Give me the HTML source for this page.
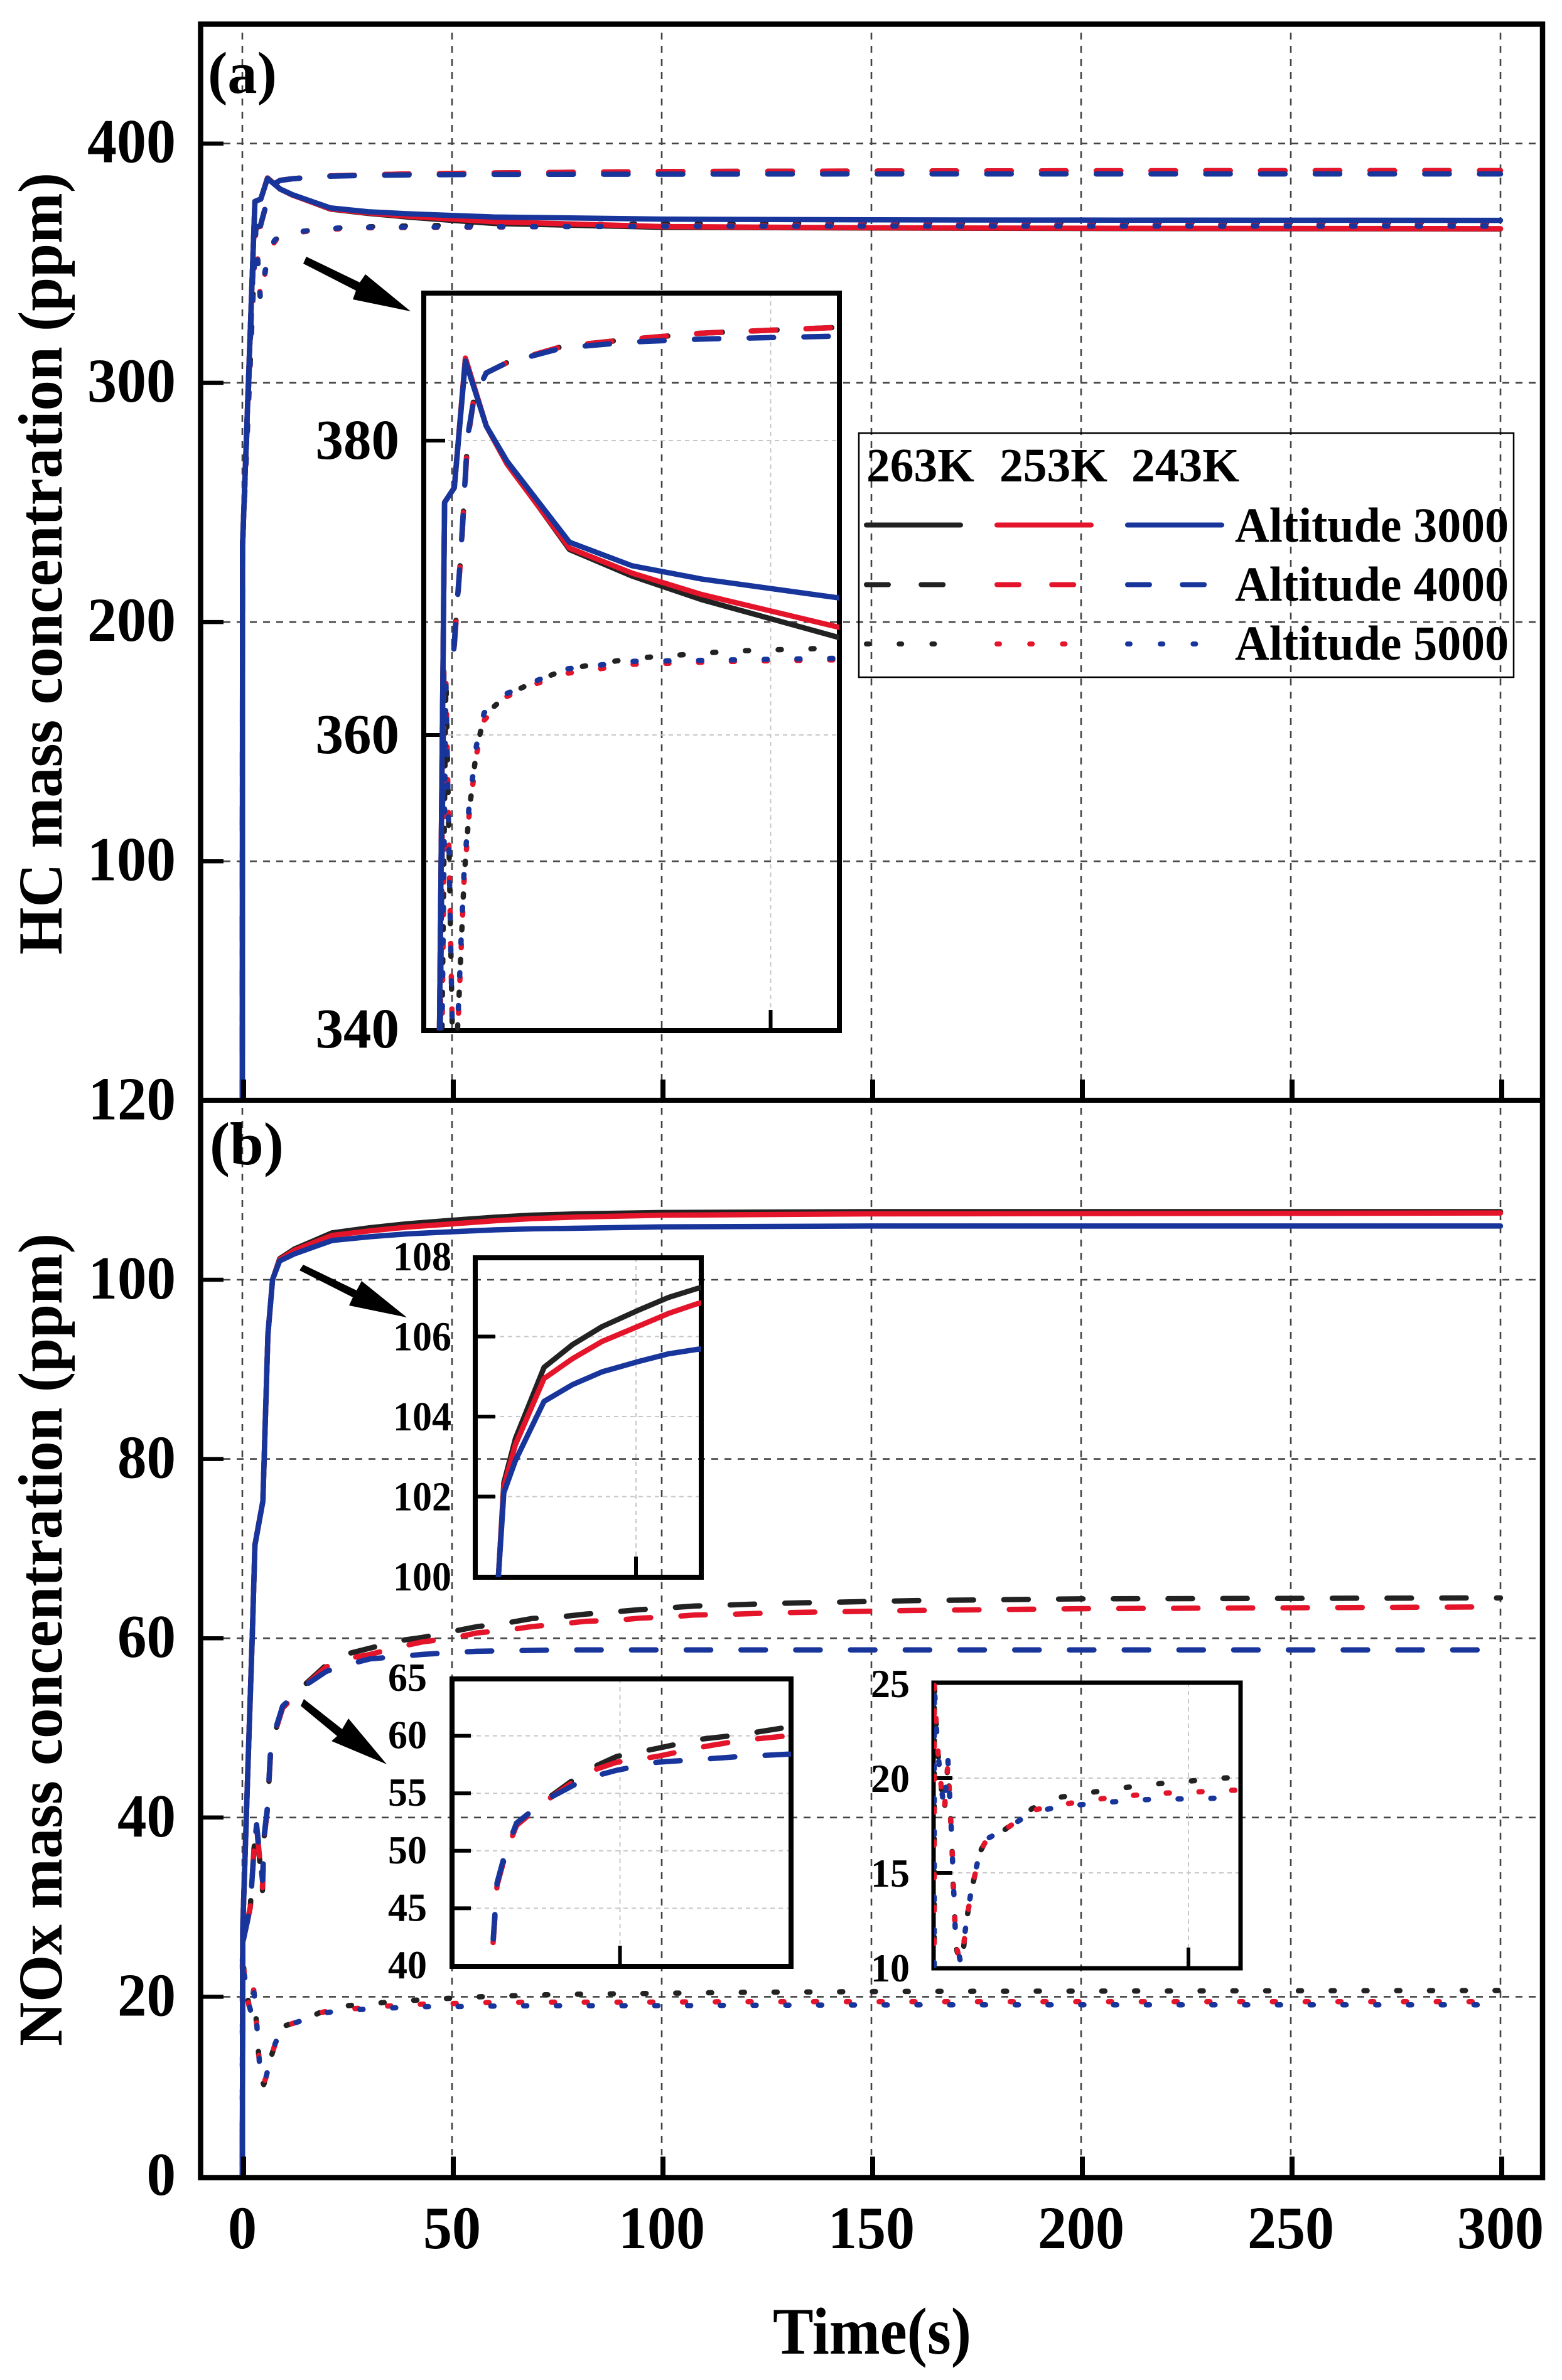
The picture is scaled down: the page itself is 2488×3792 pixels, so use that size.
<!DOCTYPE html>
<html lang="en">
<head>
<meta charset="utf-8">
<title>HC and NOx mass concentration vs time</title>
<style>
html,body{margin:0;padding:0;background:#fff;width:2488px;height:3792px;overflow:hidden;}
svg{display:block;}
text{font-family:"Liberation Serif",serif;font-weight:bold;fill:#000;}
</style>
</head>
<body>
<svg id="chart" xmlns="http://www.w3.org/2000/svg" width="2488" height="3792" viewBox="0 0 2488 3792">
<rect x="0" y="0" width="2488" height="3792" fill="#fff"/>
<defs>
<clipPath id="clip-a"><rect x="324" y="43" width="2129" height="1706"/></clipPath>
<clipPath id="clip-b"><rect x="324" y="1757" width="2129" height="1709"/></clipPath>
<clipPath id="clip-ia"><rect x="675" y="467" width="662" height="1175"/></clipPath>
<clipPath id="clip-ib"><rect x="757" y="2004" width="360" height="509"/></clipPath>
<clipPath id="clip-ic"><rect x="720" y="2675" width="540" height="458"/></clipPath>
<clipPath id="clip-id"><rect x="1488" y="2681" width="488" height="455"/></clipPath>
</defs>
<g id="layer"></g>
</svg>
<script>
// ---------- axis tick values ----------
const timeTicks = [0, 50, 100, 150, 200, 250, 300];
const hcTicks = [100, 200, 300, 400];
const noxTicks = [0, 20, 40, 60, 80, 100, 120];
const insetHcTicks = [340, 360, 380];
const insetNoxHighTicks = [100, 102, 104, 106, 108];
const insetNoxMidTicks = [40, 45, 50, 55, 60, 65];
const insetNoxLowTicks = [10, 15, 20, 25];

// ---------- HC series (ppm) ----------
const hcSolidTime = [0, 0.05, 3, 4.4, 6, 9, 12, 21, 30, 40, 60, 100, 150, 200, 300];
const hcSolid263 = [0, 232, 375.8, 376.8, 385.6, 381, 378.5, 372.6, 370.8, 369.2, 366.6, 365, 364.7, 364.5, 364.3];
const hcSolid253 = [0, 232, 375.8, 376.8, 385.6, 381, 378.4, 372.7, 371, 369.55, 367.3, 365.3, 364.8, 364.6, 364.4];
const hcSolid243 = [0, 232, 375.8, 376.8, 385.4, 381, 378.6, 373.1, 371.5, 370.6, 369.3, 368.4, 368.1, 368, 367.9];

const hcDashTime = [0, 0.05, 2.9, 4.3, 5.4, 6.3, 7.2, 9, 12, 20, 30, 40, 60, 100, 150, 200, 300];
const hcDash263 = [0, 232, 364.8, 365.6, 372.6, 380, 382.8, 384.6, 385.3, 386.4, 386.9, 387.3, 387.7, 388.3, 388.5, 388.6, 388.7];
const hcDash253 = [0, 232, 364.6, 365.4, 372.6, 380, 382.8, 384.6, 385.3, 386.4, 386.9, 387.3, 387.7, 388.3, 388.5, 388.6, 388.7];
const hcDash243 = [0, 232, 364.8, 365.6, 372.8, 380.2, 382.8, 384.6, 385.3, 386.3, 386.7, 386.9, 387.1, 387.2, 387.3, 387.3, 387.3];

const hcDotTime = [0, 0.05, 3.2, 4.3, 5, 5.4, 5.8, 6.5, 7.6, 8.7, 11.9, 16.3, 20.8, 30, 44.5, 58.7, 100, 150, 300];
const hcDot263 = [0, 232, 364, 335, 341.2, 345.8, 350.2, 354.6, 359, 361.3, 362.7, 363.7, 364.5, 365.2, 365.7, 365.9, 366.4, 366.7, 367];
const hcDot253 = [0, 232, 363.5, 335, 341, 345.6, 350, 354.4, 358.7, 361, 362.6, 363.5, 364.2, 364.8, 365, 365.1, 365.6, 366, 366.2];
const hcDot243 = [0, 232, 363.5, 335, 341.6, 346.3, 350.6, 355, 359.3, 361.5, 362.8, 363.7, 364.5, 365, 365.1, 365.2, 365.4, 365.5, 365.5];

// ---------- NOx series (ppm) ----------
const noxSolidTime = [0, 0.1, 1.5, 2.4, 3, 4.9, 6.1, 7.2, 8.9, 12.5, 21.4, 30.3, 39.5, 50.5, 60.2, 69, 80, 100, 150, 300];
const noxSolid263 = [0, 27.7, 48, 60.7, 70.4, 75.3, 93.9, 100, 102.35, 103.45, 105.23, 105.8, 106.25, 106.65, 106.98, 107.2, 107.35, 107.5, 107.6, 107.6];
const noxSolid253 = [0, 27.7, 48, 60.7, 70.4, 75.3, 93.9, 100, 102.25, 103.3, 104.95, 105.45, 105.88, 106.25, 106.58, 106.82, 107, 107.2, 107.35, 107.45];
const noxSolid243 = [0, 27.7, 48, 60.7, 70.4, 75.3, 93.9, 100, 102.1, 102.9, 104.38, 104.8, 105.12, 105.37, 105.57, 105.68, 105.75, 105.9, 106, 106];

const noxDashTime = [0, 0.1, 1.9, 2.8, 3.4, 4.8, 5.2, 6, 6.7, 8, 9.6, 13.9, 20, 24.5, 30.5, 37, 43, 50, 56, 63, 69, 76, 82, 89, 95, 102, 108, 115, 128, 160, 200, 300];
const noxDash263 = [0, 26, 30, 36.6, 39, 31.8, 37.8, 41, 47, 49.8, 52.4, 54.4, 57, 58.2, 58.9, 59.7, 60.1, 60.75, 61.3, 61.7, 62.2, 62.4, 62.7, 62.96, 63.2, 63.4, 63.6, 63.7, 63.9, 64.2, 64.4, 64.5];
const noxDash253 = [0, 26, 30, 36.6, 39, 32.2, 37.8, 41, 47, 49.8, 52.2, 54.3, 56.8, 57.7, 58.2, 59, 59.6, 60, 60.6, 60.9, 61.3, 61.6, 61.9, 62, 62.25, 62.4, 62.6, 62.65, 62.85, 63.1, 63.3, 63.5];
const noxDash243 = [0, 26, 30, 36.6, 39.2, 33, 38, 41.2, 47.2, 50, 52.4, 54.4, 56.3, 57, 57.7, 57.95, 58.2, 58.4, 58.55, 58.6, 58.65, 58.7, 58.7, 58.7, 58.7, 58.7, 58.7, 58.7, 58.7, 58.7, 58.7, 58.7];

const noxDotTime = [0, 0.02, 0.45, 0.9, 1.6, 2, 2.7, 3.2, 3.5, 3.7, 4, 4.2, 5.1, 5.8, 6.6, 7.6, 9, 10.4, 14, 19.3, 25, 31, 37.5, 44, 50.5, 56.8, 70, 82, 94, 120, 160, 300];
const noxDot263 = [0, 25, 22.5, 20.8, 19, 18.2, 20.8, 18, 16.4, 14.6, 13, 11.2, 10.2, 11.1, 12.9, 14.4, 16.1, 16.8, 17.3, 18.4, 19, 19.25, 19.5, 19.7, 19.85, 20, 20.2, 20.3, 20.35, 20.5, 20.6, 20.7];
const noxDot253 = [0, 25, 22.5, 20.8, 19, 18.3, 20.8, 18.1, 16.5, 14.7, 13.1, 11.3, 10.3, 11.2, 12.9, 14.4, 16.1, 16.8, 17.3, 18.3, 18.6, 18.85, 19.05, 19.2, 19.25, 19.35, 19.4, 19.4, 19.4, 19.45, 19.45, 19.45];
const noxDot243 = [0, 25, 22.6, 20.9, 19.1, 18.4, 21, 18.2, 16.6, 14.8, 13.2, 11.5, 10.4, 11.3, 13, 14.5, 16.1, 16.8, 17.3, 18.2, 18.5, 18.65, 18.8, 18.9, 18.9, 18.95, 19, 19, 19, 19.05, 19.1, 19.1];

// ---------- legend text ----------
const legendTemps = ["263K", "253K", "243K"];
const legendAltitudes = ["Altitude 3000", "Altitude 4000", "Altitude 5000"];

// ---------- drawing ----------
const layer = document.getElementById('layer');
const SVGNS = 'http://www.w3.org/2000/svg';
const COLORS = ['#222222', '#e4152b', '#17359b'];
const TEMPS = ['263k', '253k', '243k'];
const DASH = {dash: [39, 48.2], dot: [5, 47.2]};

function mk(tag, attrs, name, parent) {
  const el = document.createElementNS(SVGNS, tag);
  for (const k in attrs) el.setAttribute(k, attrs[k]);
  
  
  (parent || layer).appendChild(el);
  return el;
}
function txt(s, x, y, size, anchor, len, name, parent) {
  const a = {x: x, y: y, 'font-size': size, 'text-anchor': anchor || 'start'};
  if (len) { a.textLength = len; a.lengthAdjust = 'spacingAndGlyphs'; }
  const el = mk('text', a, name, parent);
  el.textContent = s;
  return el;
}
function seg(x1, y1, x2, y2, stroke, w, dash, name, parent) {
  const a = {x1: x1, y1: y1, x2: x2, y2: y2, stroke: stroke, 'stroke-width': w};
  if (dash) a['stroke-dasharray'] = dash;
  return mk('line', a, name, parent);
}
// Liang-Barsky segment clip against a box
function clipSeg(p, q, box) {
  let t0 = 0, t1 = 1;
  const dx = q[0] - p[0], dy = q[1] - p[1];
  const tests = [[-dx, p[0] - box.x0], [dx, box.x1 - p[0]], [-dy, p[1] - box.y0], [dy, box.y1 - p[1]]];
  for (const [a, b] of tests) {
    if (a === 0) { if (b < 0) return null; continue; }
    const r = b / a;
    if (a < 0) { if (r > t1) return null; if (r > t0) t0 = r; }
    else { if (r < t0) return null; if (r < t1) t1 = r; }
  }
  return [[p[0] + t0 * dx, p[1] + t0 * dy], [p[0] + t1 * dx, p[1] + t1 * dy]];
}
function curve(time, vals, xf, yf, color, style, name, parent, box, anchorT) {
  const pts = time.map((t, i) => [xf(t), yf(vals[i])]);
  let d = '', last = null, len = 0, anchorLen = null;
  const ax = anchorT === undefined ? null : xf(anchorT);
  for (let i = 1; i < pts.length; i++) {
    const s = box ? clipSeg(pts[i - 1], pts[i], box) : [pts[i - 1], pts[i]];
    if (!s) continue;
    if (!last || last[0] !== s[0][0] || last[1] !== s[0][1]) d += 'M' + s[0][0].toFixed(2) + ' ' + s[0][1].toFixed(2) + ' ';
    d += 'L' + s[1][0].toFixed(2) + ' ' + s[1][1].toFixed(2) + ' ';
    const sl = Math.hypot(s[1][0] - s[0][0], s[1][1] - s[0][1]);
    if (ax !== null && anchorLen === null && s[1][0] >= ax) {
      const f = s[1][0] > s[0][0] ? (ax - s[0][0]) / (s[1][0] - s[0][0]) : 0;
      anchorLen = len + Math.max(0, f) * sl;
    }
    len += sl;
    last = s[1];
  }
  const a = {d: d.trim(), fill: 'none', stroke: color, 'stroke-width': 8.5, 'stroke-linecap': 'round', 'stroke-linejoin': 'round'};
  if (DASH[style]) {
    const P = DASH[style][0] + DASH[style][1];
    a['stroke-dasharray'] = DASH[style].join(' ');
    if (anchorLen !== null) a['stroke-dashoffset'] = (((-anchorLen % P) + P) % P).toFixed(2);
  }
  return mk('path', a, name, parent);
}

// main scales
const xMain = t => 386 + 6.68 * t;
const yHC = v => 1753.5 - 3.812 * v;
const yNOx = v => 3467 - 14.28 * v;

// main grids
const grid = mk('g', {}, 'main-gridlines');
timeTicks.forEach(t => {
  seg(xMain(t), 52, xMain(t), 1720, '#444', 2.6, '11 10', 'grid-x-a-' + t, grid);
  seg(xMain(t), 1765, xMain(t), 3434, '#444', 2.6, '11 10', 'grid-x-b-' + t, grid);
});
hcTicks.forEach(v => seg(356, yHC(v), 2448, yHC(v), '#444', 2.6, '11 10', 'grid-y-hc-' + v, grid));
noxTicks.filter(v => v > 0 && v < 120).forEach(v => seg(356, yNOx(v), 2448, yNOx(v), '#444', 2.6, '11 10', 'grid-y-nox-' + v, grid));

// series groups
const hcGroups = [
  {time: hcSolidTime, vals: [hcSolid263, hcSolid253, hcSolid243], style: 'solid', alt: 'altitude-3000'},
  {time: hcDashTime, vals: [hcDash263, hcDash253, hcDash243], style: 'dash', alt: 'altitude-4000'},
  {time: hcDotTime, vals: [hcDot263, hcDot253, hcDot243], style: 'dot', alt: 'altitude-5000'}
];
const noxGroups = [
  {time: noxSolidTime, vals: [noxSolid263, noxSolid253, noxSolid243], style: 'solid', alt: 'altitude-3000'},
  {time: noxDashTime, vals: [noxDash263, noxDash253, noxDash243], style: 'dash', alt: 'altitude-4000'},
  {time: noxDotTime, vals: [noxDot263, noxDot253, noxDot243], style: 'dot', alt: 'altitude-5000'}
];
function allSeries(groups, xf, yf, clip, prefix, phase, box) {
  const g = mk('g', {'clip-path': 'url(#' + clip + ')'}, prefix + '-series');
  for (let c = 0; c < 3; c++) {
    groups.forEach(sr => {
      const an = phase[sr.style] ? phase[sr.style][c] : undefined;
      curve(sr.time, sr.vals[c], xf, yf, COLORS[c], sr.style, prefix + '-' + sr.alt + '-' + TEMPS[c], g, box, an);
    });
  }
}
allSeries(hcGroups, xMain, yHC, 'clip-a', 'hc-main', {dash: [295, 295, 295], dot: [296, 295.8, 295.8]});
allSeries(noxGroups, xMain, yNOx, 'clip-b', 'nox-main', {dash: [286, 287.3, 288.6], dot: [298.7, 292.5, 293.7]});

// main ticks
const ticks = mk('g', {}, 'main-ticks');
timeTicks.forEach(t => {
  seg(xMain(t) + 2, 1753, xMain(t) + 2, 1720, '#000', 8, null, 'x-tick-a-' + t, ticks);
  seg(xMain(t) + 2, 3469, xMain(t) + 2, 3436, '#000', 8, null, 'x-tick-b-' + t, ticks);
});
hcTicks.forEach(v => seg(320, yHC(v), 356, yHC(v), '#000', 6.5, null, 'y-tick-hc-' + v, ticks));
noxTicks.filter(v => v > 0 && v < 120).forEach(v => seg(320, yNOx(v), 356, yNOx(v), '#000', 6.5, null, 'y-tick-nox-' + v, ticks));

// frames
mk('rect', {x: 319.5, y: 38.5, width: 2137.5, height: 3431, fill: 'none', stroke: '#000', 'stroke-width': 8.5}, 'outer-frame');
seg(316, 1753, 2461, 1753, '#000', 8, null, 'panel-divider');

// labels
hcTicks.forEach(v => txt(String(v), 280, yHC(v) + 30, 100, 'end', 141, 'hc-y-tick-label-' + v));
noxTicks.forEach(v => txt(String(v), 280, yNOx(v) + 30, 98, 'end', String(v).length * 46.5, 'nox-y-tick-label-' + v));
timeTicks.forEach(t => {
  const s = String(t);
  txt(s, xMain(t), 3582, 96, 'middle', s.length * 46, 'x-tick-label-' + t);
});
txt('Time(s)', 1231, 3750, 106, 'start', 316, 'x-axis-title');
txt('HC mass concentration (ppm)', 0, 0, 100, 'start', 1246, 'hc-y-axis-title').setAttribute('transform', 'translate(98 1521) rotate(-90)');
txt('NOx mass concentration (ppm)', 0, 0, 100, 'start', 1295, 'nox-y-axis-title').setAttribute('transform', 'translate(98 3260) rotate(-90)');
txt('(a)', 331, 148, 94, 'start', 110, 'panel-a-label');
txt('(b)', 334, 1855, 96, 'start', 118, 'panel-b-label');

// insets
function inset(cfg) {
  const g = mk('g', {}, cfg.name);
  const L = cfg.L, R = cfg.R, T = cfg.T, B = cfg.B;
  cfg.ticks.forEach(v => {
    if (v > cfg.minV && v < cfg.maxV) {
      seg(L, cfg.y(v), R, cfg.y(v), '#c8c8c8', 2, '7 6', cfg.name + '-grid-y-' + v, g);
      seg(L, cfg.y(v), L + cfg.tickLen, cfg.y(v), '#000', 6, null, cfg.name + '-y-tick-' + v, g);
    }
    txt(String(v), cfg.labelRight, cfg.y(v) + cfg.labelDy, cfg.fontSize, 'end', String(v).length * cfg.digitW, cfg.name + '-y-label-' + v, g);
  });
  seg(cfg.x(cfg.xTick), T, cfg.x(cfg.xTick), B, '#c8c8c8', 2, '7 6', cfg.name + '-grid-x', g);
  seg(cfg.x(cfg.xTick), B, cfg.x(cfg.xTick), B - 33, '#000', 6, null, cfg.name + '-x-tick', g);
  const box = {x0: L - 20, x1: R + 20, y0: T - 20, y1: B + 20};
  allSeries(cfg.groups, cfg.x, cfg.y, cfg.clip, cfg.name, cfg.phase, box);
  mk('rect', {x: L, y: T, width: R - L, height: B - T, fill: 'none', stroke: '#000', 'stroke-width': cfg.frame}, cfg.name + '-frame', g);
}
inset({name: 'inset-hc', L: 675, R: 1337, T: 467, B: 1642, clip: 'clip-ia', frame: 8,
  x: t => 675 + 11.05 * t, y: v => 1640 - (v - 340) * 23.45, ticks: insetHcTicks, minV: 340, maxV: 400,
  xTick: 50, labelRight: 636, labelDy: 29, fontSize: 90, digitW: 44.5, tickLen: 34, groups: hcGroups,
  phase: {dash: [47.4, 47.2, 46.9], dot: [58.6, 58.7, 58.7]}});
inset({name: 'inset-nox-high', L: 757, R: 1117, T: 2004, B: 2513, clip: 'clip-ib', frame: 8,
  x: t => 757 + 5.12 * t, y: v => 2512 - (v - 100) * 63.75, ticks: insetNoxHighTicks, minV: 100, maxV: 108,
  xTick: 50, labelRight: 719, labelDy: 22, fontSize: 66, digitW: 31, tickLen: 32, groups: [noxGroups[0]],
  phase: {}});
inset({name: 'inset-nox-mid', L: 720, R: 1260, T: 2675, B: 3133, clip: 'clip-ic', frame: 8,
  x: t => 720 + 10.7 * t, y: v => 3132 - (v - 40) * 18.32, ticks: insetNoxMidTicks, minV: 40, maxV: 65,
  xTick: 25, labelRight: 680, labelDy: 20, fontSize: 64, digitW: 31, tickLen: 30, groups: [noxGroups[1]],
  phase: {dash: [44.9, 45, 45.4]}});
inset({name: 'inset-nox-low', L: 1487, R: 1976, T: 2681, B: 3136, clip: 'clip-id', frame: 7,
  x: t => 1488 + 8.1 * t, y: v => 3135 - (v - 10) * 30.2, ticks: insetNoxLowTicks, minV: 10, maxV: 25,
  xTick: 50, labelRight: 1449, labelDy: 22, fontSize: 64, digitW: 31, tickLen: 30, groups: [noxGroups[2]],
  phase: {dot: [57, 58.5, 54.4]}});

// arrows
mk('polygon', {points: '488,409 573,450 582,437 654,496 562,477 567,463 483,420', fill: '#000'}, 'hc-inset-arrow');
mk('polygon', {points: '483,2015 568,2056 576,2041 648,2099 556,2080 562,2067 477,2024', fill: '#000'}, 'nox-high-inset-arrow');
mk('polygon', {points: '484,2707 545,2755 555,2738 616,2811 528,2774 537,2766 479,2718', fill: '#000'}, 'nox-mid-inset-arrow');

// legend
const lg = mk('g', {}, 'legend');
mk('rect', {x: 1368, y: 690, width: 1043, height: 389, fill: 'none', stroke: '#000', 'stroke-width': 2.5}, 'legend-box', lg);
const legendHeaderX = [1380, 1592, 1802];
const legendLineX = [1380, 1588, 1796];
legendTemps.forEach((s, i) => txt(s, legendHeaderX[i], 767, 76, 'start', 172, 'legend-temp-' + s, lg));
const legendY = [836.5, 931.5, 1026];
const legendBase = [863, 957, 1051];
const legendStyle = ['solid', 'dash', 'dot'];
legendAltitudes.forEach((s, i) => {
  txt(s, 1967, legendBase[i], 78, 'start', 436, 'legend-label-' + (i + 3) + '000', lg);
  for (let c = 0; c < 3; c++) {
    const a = {x1: legendLineX[c], y1: legendY[i], x2: legendLineX[c] + 150, y2: legendY[i], stroke: COLORS[c], 'stroke-width': 8, 'stroke-linecap': 'round'};
    if (legendStyle[i] === 'dash') a['stroke-dasharray'] = '35 52.2';
    if (legendStyle[i] === 'dot') a['stroke-dasharray'] = '4 48.2';
    mk('line', a, 'legend-line-' + (i + 3) + '000-' + TEMPS[c], lg);
  }
});
</script>
</body>
</html>
